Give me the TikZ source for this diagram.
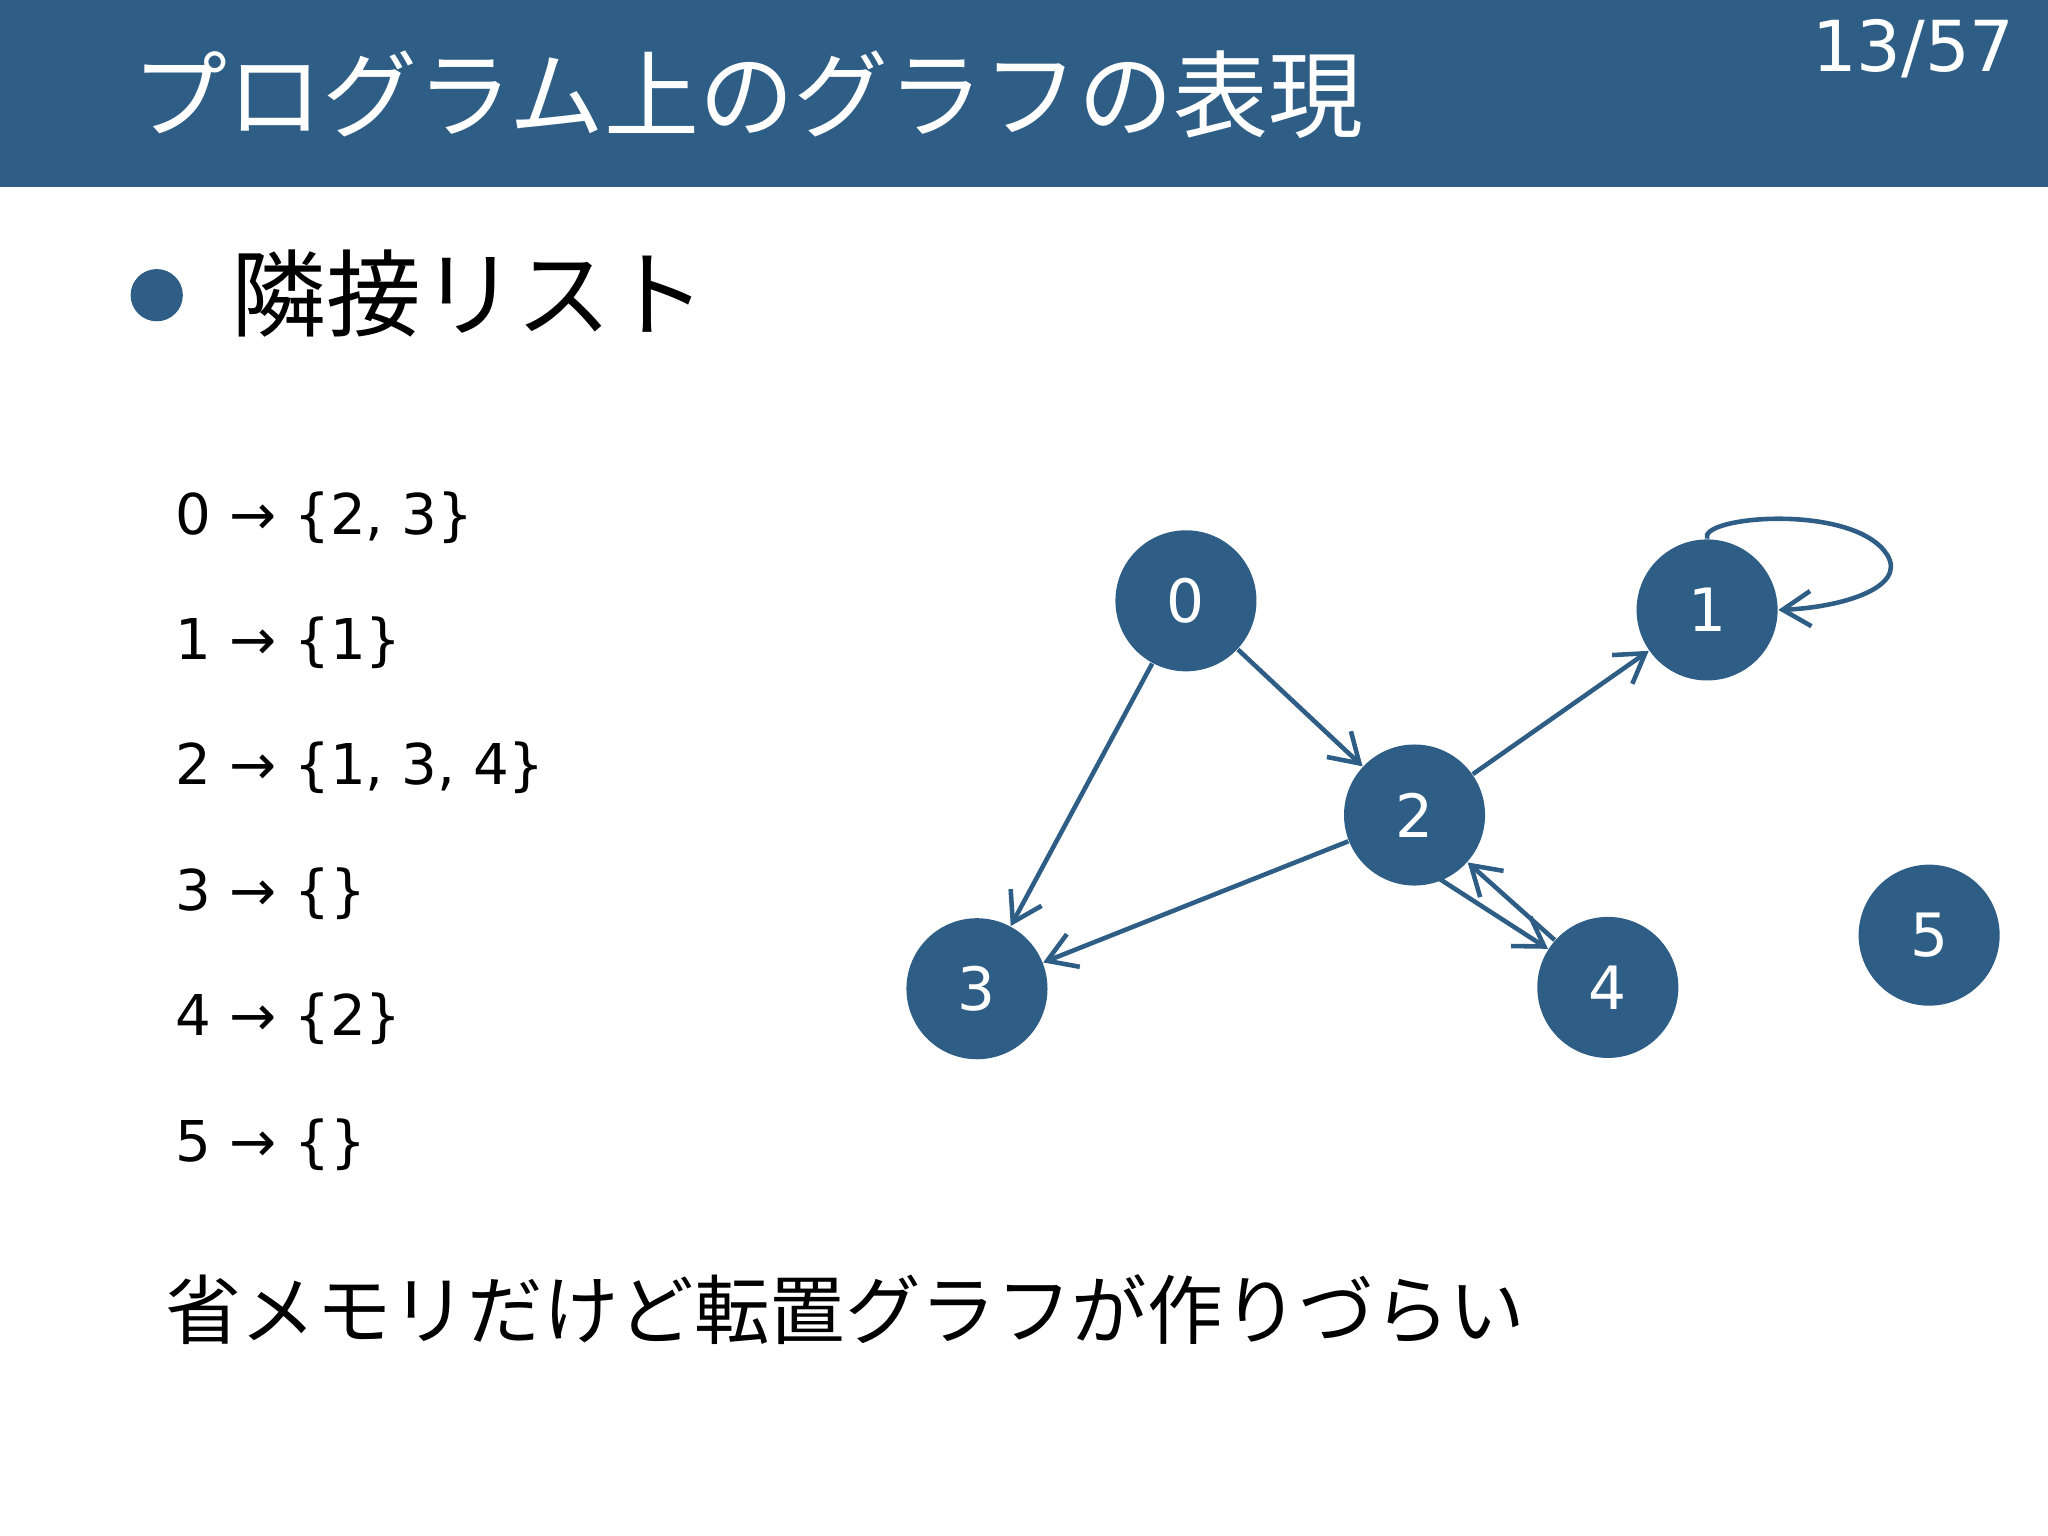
\documentclass[tikz,border=0pt]{standalone}
\usepackage{fontspec}
\setmainfont{DejaVu Sans}
\newfontfamily\jp{Noto Sans CJK JP}
\newfontfamily\jpl{Noto Sans CJK JP Light}
\usetikzlibrary{arrows.meta}
\definecolor{hd}{HTML}{2E5E86}
\begin{document}
\begin{tikzpicture}[x=0.013061cm,y=-0.013061cm,
  vx/.style={circle,fill=hd,minimum size=108*0.013061cm,inner sep=0,text=white,font=\fontsize{17}{17}\selectfont},
  ed/.style={draw=hd,line width=1.3pt,-{Straight Barb[length=8pt,width=10pt,line width=1.3pt]}},
  lst/.style={anchor=base west,font=\fontsize{16}{16}\selectfont}]
\useasboundingbox (0,0) rectangle (1568,1176);
\fill[hd] (0,0) rectangle (1568,143);
\node[anchor=base west,text=white,font=\jp\fontsize{27}{27}\selectfont] (title) at (92,100) {プログラム上のグラフの表現};
\node[anchor=base east,text=white,font=\fontsize{20}{20}\selectfont] (pg) at (1552,55) {13/57};
\fill[hd] (120,226) circle (20);
\node[anchor=base west,font=\jp\fontsize{27}{27}\selectfont] (h) at (168,252) {隣接リスト};
\node[lst] (l0) at (125,409) {0 → \{2, 3\}};
\node[lst] (l1) at (125,505) {1 → \{1\}};
\node[lst] (l2) at (125,601) {2 → \{1, 3, 4\}};
\node[lst] (l3) at (125,697) {3 → \{\}};
\node[lst] (l4) at (125,793) {4 → \{2\}};
\node[lst] (l5) at (125,889) {5 → \{\}};
\node[anchor=base west,font=\jp\fontsize{21.5}{21.5}\selectfont] (b) at (117,1025) {省メモリだけど転置グラフが作りづらい};
\node[vx] (n0) at (908,460) {0};
\node[vx] (n1) at (1307,467) {1};
\node[vx] (n2) at (1083,624) {2};
\node[vx] (n3) at (748,757) {3};
\node[vx] (n4) at (1231,756) {4};
\node[vx] (n5) at (1477,716) {5};
\draw[ed] (n0) -- (n2);
\draw[ed] (n0) -- (n3);
\draw[ed] (n2) -- (n1);
\draw[ed] (n2) -- (n3);
\draw[ed] ([xshift=-4pt]n2.-60) -- (n4);
\draw[ed] (n4) -- (n2);
\draw[ed] (n1.north) .. controls (1300,395) and (1420,385) .. (1445,425) .. controls (1460,450) and (1410,465) .. (n1.east);
\end{tikzpicture}
\end{document}
